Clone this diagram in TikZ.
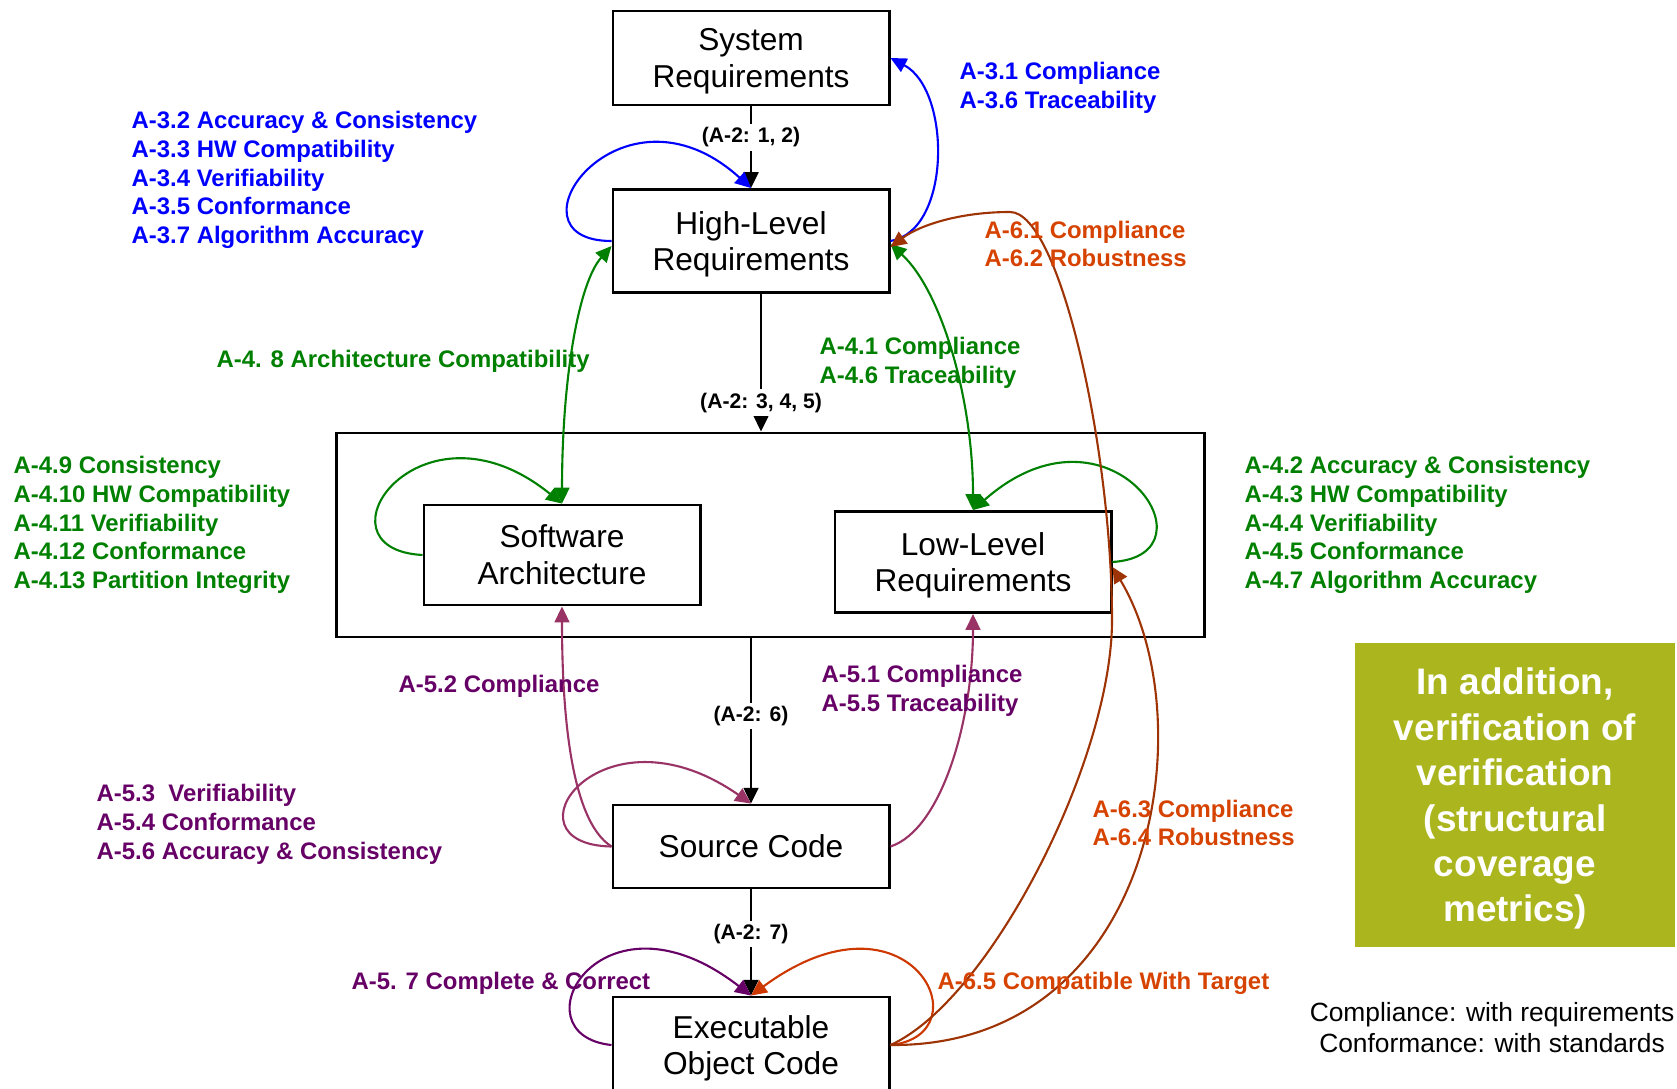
\documentclass[tikz,border=0pt]{standalone}
\usepackage{fontspec}
\setmainfont{Liberation Sans}
\usetikzlibrary{arrows.meta}
\definecolor{reqblue}{RGB}{0,0,255}
\definecolor{reqgreen}{RGB}{0,128,0}
\definecolor{codeplum}{RGB}{102,0,102}
\definecolor{codeline}{RGB}{153,51,102}
\definecolor{objtext}{RGB}{214,66,0}
\definecolor{objline}{RGB}{158,52,6}
\definecolor{objloop}{RGB}{204,56,0}
\definecolor{olivebox}{RGB}{171,181,30}
\begin{document}
\begin{tikzpicture}[x=0.01cm, y=-0.01cm, >={Triangle[length=4.5pt,width=4.2pt]},
	block/.style = {draw, line width=0.8pt, minimum width=2.76cm, align=center, text depth=0pt, font=\fontsize{9}{10.5}\selectfont},
	lbl/.style = {fill=white, inner sep=1pt, font=\bfseries\fontsize{6}{7}\selectfont},
	note/.style = {anchor=west, align=left, inner sep=0pt, font=\bfseries\fontsize{6.8}{8.2}\selectfont},
	link/.style = {line width=0.6pt}]
			\useasboundingbox (0,0) rectangle (1677,1088);

			\node[block, minimum height=0.94cm] (sys) at (751,58) {System\\Requirements};
			\node[block, minimum height=1.03cm] (hlr) at (751,241) {High-Level\\Requirements};
			\node[draw, line width=0.8pt, minimum width=8.67cm, minimum height=2.04cm] (swbox) at (770.5,535) {};
			\node[block, minimum height=1cm] (swa) at (562,555) {Software\\Architecture};
			\node[block, minimum height=1.01cm] (llr) at (973,562) {Low-Level\\Requirements};
			\node[block, minimum height=0.83cm] (src) at (751,846.5) {Source Code};
			\node[block, minimum height=0.96cm] (eoc) at (751,1045) {Executable\\Object Code};

			\draw[line width=0.7pt, ->] (sys.south) -- (hlr.north) node[lbl, pos=0.38] {(A-2: 1, 2)};
			\draw[line width=0.7pt, ->] ([xshift=1mm]hlr.south) -- ([xshift=1mm]hlr.south |- swbox.north) node[lbl, pos=0.79] {(A-2: 3, 4, 5)};
			\draw[line width=0.7pt, ->] (swbox.south -| src.north) -- (src.north) node[lbl, pos=0.47] {(A-2: 6)};
			\draw[line width=0.7pt, ->] (src.south) -- (eoc.north) node[lbl, pos=0.42] {(A-2: 7)};

			\draw[link, reqblue, ->] (hlr.west) .. controls +(-113,0) and +(-131,-119) .. (hlr.north);
			\draw[link, reqblue, ->] (hlr.east) .. controls +(61,-10) and +(61,32) .. (sys.east);

			\draw[link, reqgreen, <->] (swa.north) .. controls +(0,-125) and +(-33,37) .. ([yshift=-0.5mm]hlr.west);
			\draw[link, reqgreen, <->] ([yshift=-0.3mm]hlr.east) .. controls +(51,47) and +(0,-111) .. (llr.north);
			\draw[link, reqgreen, ->] (swa.west) .. controls +(-114,-6) and +(-142,-115) .. (swa.north);
			\draw[link, reqgreen, ->] (llr.east) .. controls +(109,-7) and +(137,-121) .. (llr.north);

			\draw[link, codeline, ->] (src.west) .. controls +(-43,-27) and +(0,95) .. (swa.south);
			\draw[link, codeline, ->] (src.west) .. controls +(-113,-2) and +(-151,-105) .. (src.north);
			\draw[link, codeline, ->] (src.east) .. controls +(51,-17) and +(0,107) .. (llr.south);

			\draw[link, codeplum, ->] (eoc.west) .. controls +(-98,-10) and +(-151,-117) .. (eoc.north);
			\draw[link, objloop, ->] (eoc.east) .. controls +(96,-10) and +(159,-117) .. (eoc.north);
			\draw[link, objline, ->] (eoc.east) .. controls (990,1000) and (1112,760) .. (1112,620)
				.. controls (1112,450) and (1060,212) .. (1010,212)
				.. controls (960,212) and (920,225) .. ([yshift=-0.6mm]hlr.east);
			\draw[link, objline, ->] (eoc.east) .. controls +(266,2) and +(92,153) .. ([yshift=-0.5mm]llr.east);

			\node[note, reqblue] (n31) at (959,87.5) {A-3.1 Compliance\\A-3.6 Traceability};
			\node[note, reqblue] (n32) at (131,180) {A-3.2 Accuracy \& Consistency\\A-3.3 HW Compatibility\\A-3.4 Verifiability\\A-3.5 Conformance\\A-3.7 Algorithm Accuracy};
			\node[note, reqgreen] (n48) at (216,361) {A-4. 8 Architecture Compatibility};
			\node[note, reqgreen] (n41) at (819,363) {A-4.1 Compliance\\A-4.6 Traceability};
			\node[note, reqgreen] (n49) at (13,525) {A-4.9 Consistency\\A-4.10 HW Compatibility\\A-4.11 Verifiability\\A-4.12 Conformance\\A-4.13 Partition Integrity};
			\node[note, reqgreen] (n42) at (1244,525) {A-4.2 Accuracy \& Consistency\\A-4.3 HW Compatibility\\A-4.4 Verifiability\\A-4.5 Conformance\\A-4.7 Algorithm Accuracy};
			\node[note, codeplum] (n52) at (398,686) {A-5.2 Compliance};
			\node[note, codeplum] (n51) at (821,691) {A-5.1 Compliance\\A-5.5 Traceability};
			\node[note, codeplum] (n53) at (96,824) {A-5.3\ \ Verifiability\\A-5.4 Conformance\\A-5.6 Accuracy \& Consistency};
			\node[note, codeplum] (n57) at (351,983) {A-5. 7 Complete \& Correct};
			\node[note, objtext] (n61) at (984,244) {A-6.1 Compliance\\A-6.2 Robustness};
			\node[note, objtext] (n63) at (1092,823) {A-6.3 Compliance\\A-6.4 Robustness};
			\node[note, objtext] (n65) at (937,983) {A-6.5 Compatible With Target};

			\node[fill=olivebox, minimum width=3.2cm, minimum height=3.04cm, text=white, align=center, text depth=0pt,
				font=\bfseries\fontsize{10.5}{12.9}\selectfont] (vv) at (1515,795)
				{In addition,\\verification of\\verification\\(structural\\coverage\\metrics)};
			\node[align=center, font=\fontsize{7.5}{8.8}\selectfont] (legend) at (1492,1028)
				{Compliance: with requirements\\Conformance: with standards};
		\end{tikzpicture}
\end{document}
